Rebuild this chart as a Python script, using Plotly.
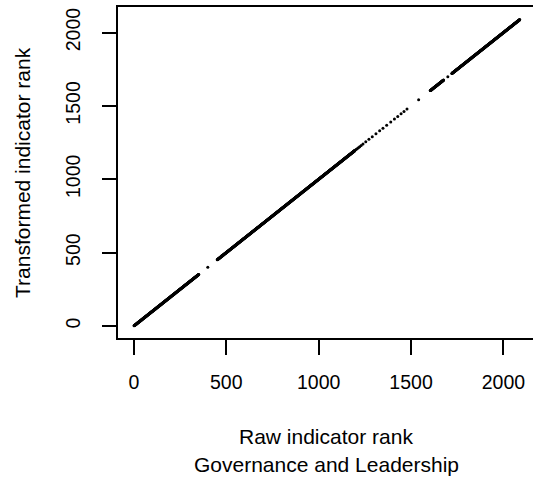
import plotly.graph_objects as go

# Raw indicator ranks present in the chart, as contiguous runs of integer ranks
run_starts = [1, 451, 1604, 1721]
run_ends = [351, 1196, 1676, 2088]
# isolated ranks (sparse part of the curve)
single_ranks = [400, 1202, 1208, 1215, 1222, 1230, 1240, 1255, 1272, 1290, 1310,
                1330, 1348, 1368, 1390, 1410, 1428, 1446, 1462, 1478, 1541, 1699]

x_tick_vals = [0, 500, 1000, 1500, 2000]
y_tick_vals = [0, 500, 1000, 1500, 2000]
x_title = "Raw indicator rank"
subtitle = "Governance and Leadership"
y_title = "Transformed indicator rank"

raw_rank = []
for s, e in zip(run_starts, run_ends):
    raw_rank.extend(range(s, e + 1))
raw_rank.extend(single_ranks)
raw_rank.sort()
transformed_rank = list(raw_rank)  # transformed rank equals raw rank

W, H = 533, 483
L, R, T, B = 117.5, 533, 6.7, 338.3
FONT = "Liberation Sans, Arial, Helvetica, sans-serif"
FS = 19.5
FT = 21

fig = go.Figure(go.Scatter(
    x=raw_rank, y=transformed_rank, mode="markers",
    marker=dict(color="black", size=3, line=dict(width=0)),
    hoverinfo="skip",
))

fig.update_layout(
    width=W, height=H,
    margin=dict(l=L, r=W - R, t=T, b=H - B, pad=0),
    plot_bgcolor="white", paper_bgcolor="white",
    showlegend=False,
    font=dict(family=FONT, size=FS, color="black"),
)
fig.update_xaxes(
    range=[-86, 2160], tickvals=x_tick_vals, ticktext=[str(v) for v in x_tick_vals],
    showgrid=False, zeroline=False, showline=True, mirror=True,
    linecolor="black", linewidth=1.5, ticks="outside", ticklen=15,
    tickwidth=1.5, tickcolor="black", ticklabelstandoff=11,
)
fig.update_yaxes(
    range=[-82.5, 2174], tickvals=y_tick_vals, ticktext=[str(v) for v in y_tick_vals],
    showgrid=False, zeroline=False, showline=True, mirror=False,
    linecolor="black", linewidth=1.5, ticks="outside", ticklen=14,
    tickwidth=1.5, tickcolor="black", tickangle=-90, ticklabelstandoff=14,
)

pw = R - L
fig.add_annotation(text=x_title, xref="paper", yref="paper", x=(326 - L) / pw, y=0,
                   yshift=-(437 - B), xanchor="center", yanchor="middle",
                   showarrow=False, font=dict(size=FT))
fig.add_annotation(text=subtitle, xref="paper", yref="paper", x=(326 - L) / pw, y=0,
                   yshift=-(465 - B), xanchor="center", yanchor="middle",
                   showarrow=False, font=dict(size=FT))
fig.add_annotation(text=y_title, xref="paper", yref="paper", x=0, y=0.5,
                   xshift=22 - L, xanchor="center", yanchor="middle", textangle=-90,
                   showarrow=False, font=dict(size=FT))

fig.write_html("out.html", config={"displayModeBar": False},
               post_script="document.body.style.margin='0';document.body.style.overflow='hidden';")
